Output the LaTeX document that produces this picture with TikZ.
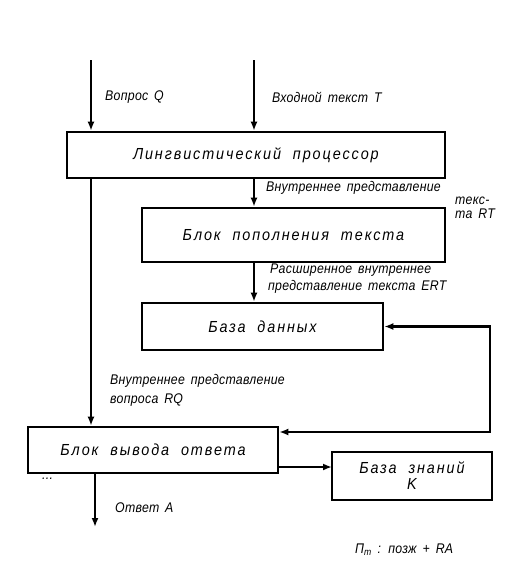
\documentclass[tikz,border=0pt]{standalone}
\usepackage{fontspec}
\setmainfont{Liberation Sans}
\newfontfamily\boxfont[LetterSpace=12,FakeStretch=0.9,WordSpace=2]{Liberation Sans}
\newfontfamily\labfont[LetterSpace=2,FakeStretch=0.88,WordSpace=1.6]{Liberation Sans}
\usepackage{tikz}
\usetikzlibrary{arrows.meta,calc,positioning}
\tikzset{
  blk/.style={draw,line width=2.6pt,inner sep=2pt,align=center,
    font=\boxfont\itshape\fontsize{16}{16}\selectfont},
  edge/.style={-{Latex[length=9pt,width=7pt]},line width=2.8pt},
  bedge/.style={{Latex[length=9pt,width=7pt]}-{Latex[length=9pt,width=7pt]},line width=2.8pt},
  lab/.style={anchor=west,inner sep=0pt,font=\labfont\itshape\fontsize{14}{14}\selectfont}
}

\begin{document}
\begin{tikzpicture}[x=1pt,y=-1pt]
\useasboundingbox (0,0) rectangle (522,571);

% blocks
\node[blk,minimum width=378pt,minimum height=46pt] (proc) at (256,155) {Лингвистический процессор};
\node[blk,minimum width=303pt,minimum height=54pt] (fill) at (293.5,235) {Блок пополнения текста};
\node[blk,minimum width=241pt,minimum height=47pt] (db) at (262.5,326.5) {База данных};
\node[blk,minimum width=250pt,minimum height=46pt] (out) at (153,450) {Блок вывода ответа};
\node[blk,minimum width=160pt,minimum height=48pt] (kb) at (412,476) {База знаний\\K};

% free ends
\coordinate (qtop) at (91,60);
\coordinate (ttop) at (254,60);
\coordinate (ret) at (490,432);
\coordinate (kbin) at (332,467);
\coordinate (ans) at (95,527);

% inputs
\draw[edge] (qtop) -- (qtop |- proc.north);
\draw[edge] (ttop) -- (ttop |- proc.north);
\node[lab] (q) at (105,97) {Вопрос Q};
\node[lab] (t) at (272,97) {Входной текст T};

% text path
\draw[edge] (proc.south -| ttop) -- (fill.north -| ttop);
\node[lab] (rt1) at (266,188) {Внутреннее представление};
\node[lab] (rt2) at (455,201) {текс-};
\node[lab] (rt3) at (455,214) {та RT};
\draw[edge] (fill.south -| ttop) -- (db.north -| ttop);
\node[lab] (ert1) at (270,270) {Расширенное внутреннее};
\node[lab] (ert2) at (268,287) {представление текста ERT};

% question path
\draw[edge] (proc.south -| qtop) -- (out.north -| qtop);
\node[lab] (rq1) at (110,381) {Внутреннее представление};
\node[lab] (rq2) at (110,400) {вопроса RQ};

% data base link and knowledge base
\draw[bedge] (out.east |- ret) -- (ret) |- (db.east);
\draw[edge] (out.east |- kbin) -- (kbin);

% answer
\draw[edge] (out.south -| ans) -- (ans);
\node[lab] (a) at (115,508) {Ответ A};
\node[lab] (dots) at (42,479) {...};
\node[lab] (cap) at (355,550) {П\textsubscript{т} : позж + RA};
\end{tikzpicture}
\end{document}
